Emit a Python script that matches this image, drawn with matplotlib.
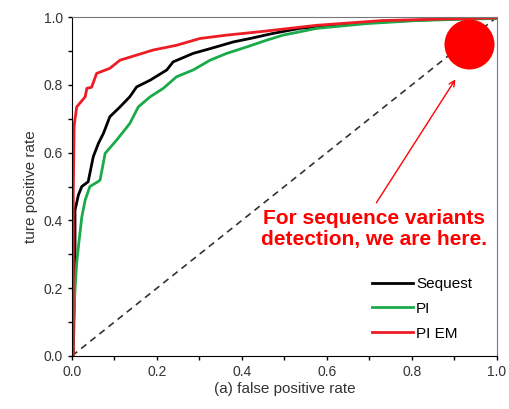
import matplotlib
matplotlib.use("Agg")
import matplotlib.pyplot as plt
from matplotlib.ticker import MultipleLocator

plt.rcParams['font.family'] = ['Liberation Sans', 'DejaVu Sans']

# ROC curves
sequest_fpr = [0.0, 0.003, 0.007, 0.007, 0.015, 0.023, 0.038, 0.05, 0.062, 0.074,
               0.089, 0.113, 0.136, 0.152, 0.184, 0.223, 0.238, 0.285, 0.325,
               0.38, 0.419, 0.473, 0.536, 0.63, 0.73, 0.85, 1.0]
sequest_tpr = [0.0, 0.0, 0.283, 0.43, 0.475, 0.5, 0.514, 0.588, 0.627, 0.657,
               0.706, 0.735, 0.765, 0.794, 0.814, 0.844, 0.868, 0.893, 0.907,
               0.927, 0.937, 0.952, 0.967, 0.978, 0.986, 0.993, 0.998]

pi_fpr = [0.0, 0.003, 0.003, 0.007, 0.011, 0.015, 0.023, 0.031, 0.042, 0.062,
          0.066, 0.078, 0.105, 0.136, 0.156, 0.184, 0.215, 0.246, 0.285, 0.325,
          0.364, 0.411, 0.458, 0.497, 0.576, 0.693, 0.81, 0.92, 1.0]
pi_tpr = [0.0, 0.0, 0.086, 0.195, 0.274, 0.322, 0.41, 0.46, 0.5, 0.515,
          0.519, 0.598, 0.637, 0.686, 0.735, 0.765, 0.79, 0.824, 0.844, 0.873,
          0.893, 0.912, 0.932, 0.947, 0.967, 0.981, 0.99, 0.994, 0.996]

piem_fpr = [0.0, 0.003, 0.003, 0.005, 0.011, 0.031, 0.035, 0.046, 0.058, 0.089,
            0.113, 0.152, 0.191, 0.246, 0.301, 0.364, 0.442, 0.576, 0.73, 0.89, 1.0]
piem_tpr = [0.0, 0.0, 0.49, 0.68, 0.735, 0.765, 0.79, 0.793, 0.834, 0.849,
            0.873, 0.888, 0.903, 0.917, 0.937, 0.947, 0.957, 0.976, 0.99, 0.995, 0.998]

fig = plt.figure(figsize=(5.09, 4.09), dpi=100)
ax = fig.add_axes([0.1415, 0.130, 0.8345, 0.828])

ax.plot([0, 1], [0, 1], color='#333333', linestyle=(0, (4, 3)), linewidth=1.2)
ax.plot(sequest_fpr, sequest_tpr, color='black', linewidth=2, label='Sequest')
ax.plot(pi_fpr, pi_tpr, color='#1aaa4a', linewidth=2, label='PI')
ax.plot(piem_fpr, piem_tpr, color='#ee1c25', linewidth=2, label='PI EM')

# "we are here" marker
ax.plot([0.934], [0.92], marker='o', markersize=36, color='red',
        markeredgewidth=0, clip_on=False)
ax.annotate('', xy=(0.906, 0.823), xytext=(0.713, 0.445),
            arrowprops=dict(arrowstyle='->', color='red', lw=1))
ax.text(0.71, 0.375, 'For sequence variants\ndetection, we are here.',
        color='red', fontsize=15, fontweight='bold', ha='center', va='center',
        linespacing=1.1)

ax.set_xlim(0, 1)
ax.set_ylim(0, 1)
ax.xaxis.set_major_locator(MultipleLocator(0.2))
ax.xaxis.set_minor_locator(MultipleLocator(0.1))
ax.yaxis.set_major_locator(MultipleLocator(0.2))
ax.yaxis.set_minor_locator(MultipleLocator(0.1))
ax.xaxis.set_major_formatter(lambda v, _: f"{v:.1f}")
ax.yaxis.set_major_formatter(lambda v, _: f"{v:.1f}")
ax.tick_params(which='both', direction='out', length=3, width=1,
               labelsize=10, labelcolor='#333333')
for side in ['top', 'right']:
    ax.spines[side].set_color('#777777')
ax.set_xlabel('(a) false positive rate', fontsize=11, color='#333333', labelpad=2)
ax.set_ylabel('ture positive rate', fontsize=11, color='#333333', labelpad=4)

ax.legend(loc='upper left', bbox_to_anchor=(0.706, 0.233), frameon=False,
          fontsize=11, handlelength=2.7, handletextpad=0.2, labelspacing=0.71,
          borderpad=0, borderaxespad=0)

fig.savefig('out.png', dpi=100)
